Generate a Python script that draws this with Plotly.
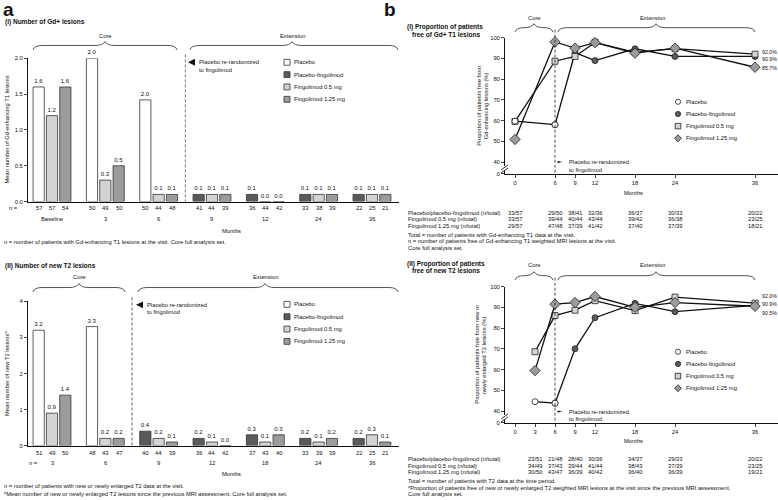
import plotly.graph_objects as go

W, H = 778, 500
FONT = "Liberation Sans"
INK = "#111111"
FS = 5.8      # general small text
FS_T = 6.5    # panel sub-titles

# ---------------- a(I): mean number of Gd+ lesions ----------------
gd_visits = ["Baseline", "3", "6", "9", "12", "24", "36"]
gd_placebo = [1.6, 2.0, 1.42, None, None, None, None]
gd_placebo_text = ["1.6", "2.0", "2.0", "", "", "", ""]
gd_pbo_fingo = [None, None, None, 0.1, 0.1, 0.1, 0.1]
gd_fingo05 = [1.2, 0.3, 0.1, 0.1, 0.0, 0.1, 0.1]
gd_fingo125 = [1.6, 0.5, 0.1, 0.1, 0.0, 0.1, 0.1]
gd_n_first = ["57", "50", "50", "41", "36", "33", "22"]
gd_n_05 = ["57", "49", "44", "44", "44", "38", "25"]
gd_n_125 = ["54", "50", "48", "39", "42", "39", "21"]
gd_yticks = [0, 0.5, 1.0, 1.5, 2.0]

# ---------------- a(II): mean number of new T2 lesions ----------------
t2_visits = ["3", "6", "9", "12", "18", "24", "36"]
t2_placebo = [3.2, 3.3, None, None, None, None, None]
t2_pbo_fingo = [None, None, 0.4, 0.2, 0.3, 0.2, 0.2]
t2_fingo05 = [0.9, 0.2, 0.2, 0.1, 0.1, 0.1, 0.3]
t2_fingo125 = [1.4, 0.2, 0.1, 0.0, 0.3, 0.2, 0.1]
t2_n_first = ["51", "48", "40", "36", "37", "33", "22"]
t2_n_05 = ["49", "43", "44", "44", "43", "39", "25"]
t2_n_125 = ["50", "47", "39", "42", "40", "39", "21"]
t2_yticks = [0, 1, 2, 3, 4]

# ---------------- b(I): proportion free of Gd+ T1 lesions ----------------
b1_months = [0, 6, 9, 12, 18, 24, 36]
b1_placebo_x = [0, 6]
b1_placebo = [59.7, 58.0]
b1_pf_x = [6, 9, 12, 18, 24, 36]
b1_pf = [58.0, 92.7, 88.9, 94.6, 90.9, 90.9]
b1_f05 = [59.6, 88.6, 90.9, 97.7, 92.9, 94.7, 92.0]
b1_f125 = [50.9, 97.9, 94.9, 97.6, 92.5, 94.9, 85.7]
b1_tab_pf = ["33/57", "29/50", "38/41", "32/36", "36/37", "30/33", "20/22"]
b1_tab_05 = ["33/57", "39/44", "40/44", "43/44", "39/42", "36/38", "23/25"]
b1_tab_125 = ["29/57", "47/48", "37/39", "41/42", "37/40", "37/39", "18/21"]
b1_end = ["92.0%", "90.9%", "85.7%"]

# ---------------- b(II): proportion free of new T2 lesions ----------------
b2_months = [3, 6, 9, 12, 18, 24, 36]
b2_ticks = [0, 3, 6, 9, 12, 18, 24, 36]
b2_placebo_x = [3, 6]
b2_placebo = [44.5, 43.8]
b2_pf_x = [6, 9, 12, 18, 24, 36]
b2_pf = [43.8, 70.0, 85.0, 91.9, 87.9, 90.9]
b2_f05 = [68.6, 86.0, 88.6, 93.2, 88.4, 94.9, 92.0]
b2_f125 = [59.5, 91.5, 92.3, 95.2, 90.0, 92.3, 90.5]
b2_tab_pf = ["23/51", "21/48", "28/40", "30/36", "34/37", "29/33", "20/22"]
b2_tab_05 = ["34/49", "37/43", "39/44", "41/44", "38/43", "37/39", "23/25"]
b2_tab_125 = ["30/50", "43/47", "36/39", "40/42", "36/40", "36/39", "19/21"]
b2_end = ["92.0%", "90.9%", "90.5%"]

series_names = ["Placebo", "Placebo-fingolimod", "Fingolimod 0.5 mg", "Fingolimod 1.25 mg"]
BAR_COLORS = ["#ffffff", "#5a5a5a", "#d3d3d3", "#9c9c9c"]

# ------------------------------------------------------------------
def X(p):
    return p / W


def Y(p):
    return 1 - p / H


annotations = []
shapes = []


def text(x, y, s, size=FS, anchor="left", bold=False, xref="paper", yref="paper",
         angle=0, color=INK, yanchor="middle"):
    if xref == "paper":
        x = X(x)
    if yref == "paper":
        y = Y(y)
    annotations.append(dict(
        x=x, y=y, xref=xref, yref=yref, text=f"<b>{s}</b>" if bold else s,
        showarrow=False, xanchor=anchor, yanchor=yanchor, textangle=angle,
        font=dict(family=FONT, size=size, color=color), borderpad=0))


def line_shape(x0, y0, x1, y1, color="#000", width=1, dash="solid", xref="paper", yref="paper"):
    if xref == "paper":
        x0, x1 = X(x0), X(x1)
    if yref == "paper":
        y0, y1 = Y(y0), Y(y1)
    shapes.append(dict(type="line", x0=x0, y0=y0, x1=x1, y1=y1, xref=xref, yref=yref,
                       line=dict(color=color, width=width, dash=dash)))


def brace(x1, x2, ytip, xm, color="#555"):
    ym = ytip + 4
    yb = ytip + 8.5
    r = 9
    pts = [
        ("M", [(x1, yb)]),
        ("Q", [(x1 + 1, ym), (x1 + r, ym)]),
        ("L", [(xm - 10, ym)]),
        ("Q", [(xm - 2, ym), (xm, ytip)]),
        ("Q", [(xm + 2, ym), (xm + 10, ym)]),
        ("L", [(x2 - r, ym)]),
        ("Q", [(x2 - 1, ym), (x2, yb)]),
    ]
    path = ""
    for cmd, cs in pts:
        path += cmd + " " + " ".join(f"{X(a):.5f},{Y(b):.5f}" for a, b in cs) + " "
    shapes.append(dict(type="path", path=path.strip(), xref="paper", yref="paper",
                       line=dict(color=color, width=1)))


fig = go.Figure()

# ---------------- bar panels ----------------
BW = 0.21
OFFS = [-0.355, -0.355, -0.105, 0.145]
GROUP_PX0, GROUP_DPX = 52.0, 53.33


def add_bars(vals_list, texts_list, xa, ya):
    for k, (vals, texts) in enumerate(zip(vals_list, texts_list)):
        if texts is None:
            texts = ["" if v is None else f"{v:.1f}" for v in vals]
        fig.add_trace(go.Bar(
            x=list(range(len(vals))), y=vals, offset=OFFS[k], width=BW,
            marker=dict(color=BAR_COLORS[k], line=dict(color="#333", width=0.8)),
            text=texts, textposition="outside", constraintext="none", cliponaxis=False,
            textfont=dict(family=FONT, size=6, color=INK),
            xaxis=xa, yaxis=ya, showlegend=False, hoverinfo="skip", name=series_names[k]))


add_bars([gd_placebo, gd_pbo_fingo, gd_fingo05, gd_fingo125],
         [gd_placebo_text, None, None, None], "x", "y")
add_bars([t2_placebo, t2_pbo_fingo, t2_fingo05, t2_fingo125],
         [None, None, None, None], "x2", "y2")

# n-values and visit labels
for i in range(len(gd_visits)):
    for k, n in zip([1, 2, 3], [gd_n_first, gd_n_05, gd_n_125]):
        text(i + OFFS[k] + BW / 2, 207.5, n[i], xref="x", anchor="center")
    text(i, 219, gd_visits[i], xref="x", anchor="center")
text(8, 207.5, "n =")
for i in range(len(t2_visits)):
    for k, n in zip([1, 2, 3], [t2_n_first, t2_n_05, t2_n_125]):
        text(i + OFFS[k] + BW / 2, 455, n[i], xref="x2", anchor="center")
    text(i, 465.5, t2_visits[i], xref="x2", anchor="center")
text(28, 465.5, "n =")

text(231, 230.5, "Months", anchor="center")
text(231, 477, "Months", anchor="center")

# dashed separators
shapes.append(dict(type="line", x0=2.5, x1=2.5, xref="x", y0=Y(52), y1=Y(201), yref="paper",
                   line=dict(color="#777", width=1, dash="3px,2px")))
shapes.append(dict(type="line", x0=1.5, x1=1.5, xref="x2", y0=Y(298), y1=Y(448), yref="paper",
                   line=dict(color="#333", width=0.8, dash="3px,2px")))

# re-randomized arrows (a)
for (tx, ty) in [(188, 60), (136, 305.5)]:
    p = f"M {X(tx):.5f},{Y(ty):.5f} L {X(tx+7):.5f},{Y(ty-3.5):.5f} L {X(tx+7):.5f},{Y(ty+3.5):.5f} Z"
    shapes.append(dict(type="path", path=p, xref="paper", yref="paper",
                       fillcolor="#111", line=dict(width=0)))
    text(tx + 10, ty, "Placebo re-randomized")
    text(tx + 10, ty + 7.5, "to fingolimod")

# bar legends
for (lx, ly0) in [(284, 60), (284, 305)]:
    for k in range(4):
        yy = ly0 + k * 12.5
        shapes.append(dict(type="rect", x0=X(lx), x1=X(lx + 6), y0=Y(yy - 3), y1=Y(yy + 3),
                           xref="paper", yref="paper", fillcolor=BAR_COLORS[k],
                           line=dict(color="#333", width=0.8)))
        text(lx + 9, yy, series_names[k])

# titles / braces (a)
text(2, 7, "a", size=19, bold=True)
text(4, 19, "(I) Number of Gd+ lesions", size=FS_T, bold=True)
text(105, 33, "Core", anchor="center")
brace(33, 177, 39, 105)
text(292, 33, "Extension", anchor="center")
brace(190, 398, 39, 292)
text(6.5, 128.5, "Mean number of Gd-enhancing T1 lesions", angle=-90, anchor="center")
text(3, 242, "n = number of patients with Gd-enhancing T1 lesions at the visit. Core full analysis set.")

text(4, 266, "(II) Number of new T2 lesions", size=FS_T, bold=True)
text(79, 277, "Core", anchor="center")
brace(33, 125, 284, 79)
text(265, 277, "Extension", anchor="center")
brace(138, 398, 284, 265)
text(6.5, 375, "Mean number of new T2 lesions*", angle=-90, anchor="center")
text(3, 489, "n = number of patients with new or newly enlarged T2 data at the visit.")
text(3, 497, "*Mean number of new or newly enlarged T2 lesions since the previous MRI assessment. Core full analysis set.")

# ---------------- line panels ----------------
MK = {"Placebo": ("circle", "#ffffff", 6),
      "Placebo-fingolimod": ("circle", "#5a5a5a", 6),
      "Fingolimod 0.5 mg": ("square", "#d3d3d3", 6),
      "Fingolimod 1.25 mg": ("diamond", "#9c9c9c", 8)}


def add_line(x, y, name, xa, ya):
    sym, col, sz = MK[name]
    fig.add_trace(go.Scatter(
        x=x, y=y, mode="lines+markers", name=name, xaxis=xa, yaxis=ya,
        line=dict(color="#111", width=1.3),
        marker=dict(symbol=sym, size=sz, color=col, line=dict(color="#222", width=0.8)),
        cliponaxis=False, showlegend=False, hoverinfo="skip"))


add_line(b1_pf_x, b1_pf, "Placebo-fingolimod", "x3", "y3")
add_line(b1_months, b1_f05, "Fingolimod 0.5 mg", "x3", "y3")
add_line(b1_months, b1_f125, "Fingolimod 1.25 mg", "x3", "y3")
add_line(b1_placebo_x, b1_placebo, "Placebo", "x3", "y3")

add_line(b2_pf_x, b2_pf, "Placebo-fingolimod", "x4", "y4")
add_line(b2_months, b2_f05, "Fingolimod 0.5 mg", "x4", "y4")
add_line(b2_months, b2_f125, "Fingolimod 1.25 mg", "x4", "y4")
add_line(b2_placebo_x, b2_placebo, "Placebo", "x4", "y4")

text(383, 7, "b", size=19, bold=True)
text(406, 24.5, "(I) Proportion of patients", size=FS_T, bold=True)
text(411, 31.5, "free of Gd+ T1 lesions", size=FS_T, bold=True)
text(534, 15, "Core", anchor="center")
brace(515, 553, 21, 534)
text(652, 15, "Extension", anchor="center")
brace(558, 755, 21, 656)

text(406, 264, "(II) Proportion of patients", size=FS_T, bold=True)
text(411, 271, "free of new T2 lesions", size=FS_T, bold=True)
text(534, 265, "Core", anchor="center")
brace(515, 553, 272, 534)
text(652, 265, "Extension", anchor="center")
brace(558, 755, 272, 656)

text(479, 104, "Proportion of patients free from", angle=-90, anchor="center")
text(485.5, 104, "Gd-enhancing lesions (%)", angle=-90, anchor="center")
text(477, 356, "Proportion of patients free from new or", angle=-90, anchor="center")
text(483.5, 356, "newly enlarged T2 lesions (%)", angle=-90, anchor="center")

# dashed month-6 lines
shapes.append(dict(type="line", x0=6, x1=6, xref="x3", y0=Y(27), y1=Y(173), yref="paper",
                   line=dict(color="#222", width=0.8, dash="3px,2px")))
shapes.append(dict(type="line", x0=6, x1=6, xref="x4", y0=Y(278), y1=Y(425), yref="paper",
                   line=dict(color="#222", width=0.8, dash="3px,2px")))

# re-randomized arrows (b)
for (xa, ty) in [("x3", 161), ("x4", 413.5)]:
    annotations.append(dict(x=6.3, y=Y(ty), xref=xa, yref="paper", ax=6, ay=0, text="",
                            showarrow=True, arrowhead=2, arrowsize=0.6, arrowwidth=0.8,
                            arrowcolor="#111"))
    text(568, ty, "Placebo re-randomized")
    text(568, ty + 8, "to fingolimod")

# axis breaks
for ybot in [173, 425]:
    shapes.append(dict(type="rect", x0=X(503), x1=X(507), y0=Y(ybot - 3), y1=Y(ybot - 8),
                       xref="paper", yref="paper", fillcolor="#fff", line=dict(width=0)))
    line_shape(501, ybot - 4, 508, ybot - 9, width=0.8)
    line_shape(501, ybot - 1, 508, ybot - 6, width=0.8)

# end labels
for lab, yy in zip(b1_end, [50, 57, 66]):
    text(761, yy, lab, size=5.3)
for lab, yy in zip(b2_end, [297, 305, 314]):
    text(761, yy, lab, size=5.3)

# line legends
for (lx, ly0) in [(678, 100), (678, 353)]:
    for k, nm in enumerate(series_names):
        yy = ly0 + k * 12.3
        sym, col, sz = MK[nm]
        if sym == "circle":
            shapes.append(dict(type="circle", x0=X(lx - 2.6), x1=X(lx + 2.6), y0=Y(yy - 2.6),
                               y1=Y(yy + 2.6), xref="paper", yref="paper", fillcolor=col,
                               line=dict(color="#222", width=0.8)))
        elif sym == "square":
            shapes.append(dict(type="rect", x0=X(lx - 2.8), x1=X(lx + 2.8), y0=Y(yy - 2.8),
                               y1=Y(yy + 2.8), xref="paper", yref="paper", fillcolor=col,
                               line=dict(color="#222", width=0.8)))
        else:
            p = (f"M {X(lx-3.5):.5f},{Y(yy):.5f} L {X(lx):.5f},{Y(yy-3.5):.5f} "
                 f"L {X(lx+3.5):.5f},{Y(yy):.5f} L {X(lx):.5f},{Y(yy+3.5):.5f} Z")
            shapes.append(dict(type="path", path=p, xref="paper", yref="paper", fillcolor=col,
                               line=dict(color="#222", width=0.8)))
        text(lx + 7, yy, nm)

# tables
ROW_LABELS = ["Placebo/placebo-fingolimod (n/total)", "Fingolimod 0.5 mg (n/total)",
              "Fingolimod 1.25 mg (n/total)"]
for rows, xs, xa, ys in [([b1_tab_pf, b1_tab_05, b1_tab_125], b1_months, "x3", [212.3, 218.9, 225.5]),
                         ([b2_tab_pf, b2_tab_05, b2_tab_125], b2_months, "x4", [461.8, 468.4, 475.0])]:
    for r, (row, yy) in enumerate(zip(rows, ys)):
        text(407, yy, ROW_LABELS[r])
        for m, v in zip(xs, row):
            text(m, yy, v, xref=xa, anchor="center")

text(407, 234.5, "Total = number of patients with Gd-enhancing T1 data at the visit.")
text(407, 241, "n = number of patients free of Gd-enhancing T1 weighted MRI lesions at the visit.")
text(407, 247.5, "Core full analysis set.")
text(407, 484, "Total = number of patients with T2 data at the time period.")
text(407, 490.6, "*Proportion of patients free of new or newly enlarged T2 weighted MRI lesions at the visit since the previous MRI assessment.")
text(407, 497.2, "Core full analysis set.")

text(633, 192.7, "Months", anchor="center")
text(633, 443, "Months", anchor="center")

# ---------------- axes ----------------
tickfont = dict(family=FONT, size=FS, color=INK)
xr_a = [(28 - GROUP_PX0) / GROUP_DPX, (399 - GROUP_PX0) / GROUP_DPX]
common_x_a = dict(range=xr_a, showline=True, linecolor="#111", linewidth=1, showticklabels=False,
                  ticks="", showgrid=False, zeroline=False, fixedrange=True)
common_y = dict(showline=True, linecolor="#111", linewidth=1, ticks="outside", ticklen=3,
                tickwidth=0.8, tickcolor="#111", showgrid=False, zeroline=False, tickfont=tickfont)

xr_b = [-1.5, (778 - 515) / 6.667]
ybot_val = 40 - 12 / 2.1
b_yvals = [ybot_val, 40, 50, 60, 70, 80, 90, 100]
b_ytext = ["0", "40", "50", "60", "70", "80", "90", "100"]
common_x_b = dict(range=xr_b, showline=True, linecolor="#111", linewidth=1, ticks="outside",
                  ticklen=3, tickwidth=0.8, tickcolor="#111", showgrid=False, zeroline=False,
                  tickfont=tickfont)

fig.update_layout(
    width=W, height=H, margin=dict(l=0, r=0, t=0, b=0),
    paper_bgcolor="#ffffff", plot_bgcolor="rgba(0,0,0,0)",
    barmode="overlay", showlegend=False,
    font=dict(family=FONT, size=FS, color=INK),
    xaxis=dict(domain=[X(28), X(399)], anchor="y", **common_x_a),
    yaxis=dict(domain=[Y(201), Y(56)], anchor="x", range=[0, 2.0], tickvals=gd_yticks,
               ticktext=[f"{v:.1f}" for v in gd_yticks], **common_y),
    xaxis2=dict(domain=[X(28), X(399)], anchor="y2", **common_x_a),
    yaxis2=dict(domain=[Y(448), Y(302)], anchor="x2", range=[0, 4], tickvals=t2_yticks,
                ticktext=[str(v) for v in t2_yticks], **common_y),
    xaxis3=dict(domain=[X(505), 1.0], anchor="y3", tickvals=b1_months,
                ticktext=[str(m) for m in b1_months], **common_x_b),
    yaxis3=dict(domain=[Y(173), Y(35)], anchor="x3", range=[ybot_val, 100], tickvals=b_yvals,
                ticktext=b_ytext, **common_y),
    xaxis4=dict(domain=[X(505), 1.0], anchor="y4", tickvals=b2_ticks,
                ticktext=[str(m) for m in b2_ticks], **common_x_b),
    yaxis4=dict(domain=[Y(425), Y(287)], anchor="x4", range=[ybot_val, 100], tickvals=b_yvals,
                ticktext=b_ytext, **common_y),
    annotations=annotations, shapes=shapes,
)

fig.write_html("out.html", config={"displayModeBar": False, "staticPlot": True},
               post_script="document.body.style.margin='0';")
